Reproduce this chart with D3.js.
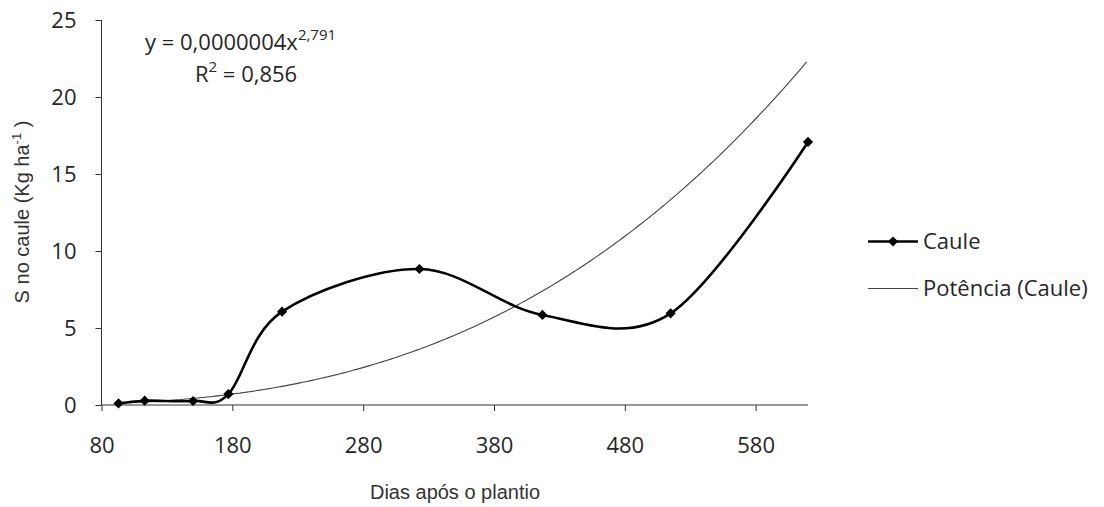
<!DOCTYPE html>
<html><head><meta charset="utf-8">
<script src="https://cdn.jsdelivr.net/npm/d3@7"></script>
<style>body{margin:0;background:#fff}svg{display:block}</style>
</head><body>
<svg id="c" width="1104" height="507"></svg>
<script>
const days = [93, 113, 150, 177, 218, 323, 417, 515, 620];
const caule = [0.1, 0.28, 0.26, 0.71, 6.06, 8.83, 5.85, 5.95, 17.08];
const xTicks = [80, 180, 280, 380, 480, 580];
const yTicks = [0, 5, 10, 15, 20, 25];
const trendA = 3.6e-7, trendB = 2.791;
const seriesNames = ["Caule", "Potência (Caule)"];

const svg = d3.select("#c");
const x = d3.scaleLinear().domain([80, 620]).range([101.5, 808]);
const y = d3.scaleLinear().domain([0, 25]).range([405, 20]);
const tickFont = "'Open Sans', sans-serif";
const FS = 22;
const txtCol = "#262626";

// Y axis
const ya = svg.append("g").attr("transform", "translate(101.5,0)")
  .call(d3.axisLeft(y).tickValues(yTicks).tickSize(6).tickPadding(19));
ya.select(".domain").attr("stroke", "#333").attr("d", "M0,405V20");
ya.selectAll("line").attr("stroke", "#333");
ya.selectAll("text").attr("font-family", tickFont).attr("font-size", FS).attr("fill", txtCol);

// X axis
const xa = svg.append("g").attr("transform", "translate(0,405)")
  .call(d3.axisBottom(x).tickValues(xTicks).tickSize(6).tickPadding(26));
xa.select(".domain").attr("stroke", "#333").attr("d", "M101.5,0H808");
xa.selectAll("line").attr("stroke", "#333");
xa.selectAll("text").attr("font-family", tickFont).attr("font-size", FS).attr("fill", txtCol);

// Titles
svg.append("text").attr("x", 455).attr("y", 499).attr("text-anchor", "middle")
  .attr("font-family", "'Liberation Sans', Arial, sans-serif").attr("font-size", 20).attr("fill", "#333")
  .text("Dias após o plantio");
const yt = svg.append("text").attr("transform", "translate(29,212) rotate(-90)").attr("text-anchor", "middle")
  .attr("font-family", "'Liberation Sans', Arial, sans-serif").attr("font-size", 20).attr("fill", "#333");
yt.append("tspan").text("S no caule (Kg ha");
yt.append("tspan").attr("dy", -8).attr("font-size", 13).text("-1");
yt.append("tspan").attr("dy", 8).text(" )");

// Trend line
const tx = d3.range(days[0], days[days.length - 1] + 0.5, 2);
const trendPts = tx.map(d => [d, trendA * Math.pow(d, trendB)]);
svg.append("path").datum(trendPts)
  .attr("d", d3.line().x(d => x(d[0])).y(d => y(d[1])))
  .attr("fill", "none").attr("stroke", "#444").attr("stroke-width", 1.1);

// Caule smoothed line
const pts = days.map((d, i) => [d, caule[i]]);
svg.append("path").datum(pts)
  .attr("d", d3.line().x(d => x(d[0])).y(d => y(d[1])).curve(d3.curveCardinal.tension(0)))
  .attr("fill", "none").attr("stroke", "#000").attr("stroke-width", 2.6);
const diamond = d3.symbol().type(d3.symbolSquare).size(52);
svg.selectAll("path.mk").data(pts).join("path").attr("class", "mk")
  .attr("d", diamond).attr("transform", d => `translate(${x(d[0])},${y(d[1])}) rotate(45)`).attr("fill", "#000");

// Equation
const eq = svg.append("text").attr("x", 145).attr("y", 50)
  .attr("font-family", tickFont).attr("font-size", FS).attr("fill", txtCol);
eq.append("tspan").text("y = 0,0000004x");
eq.append("tspan").attr("dy", -10).attr("font-size", 15).text("2,791");
const r2 = svg.append("text").attr("x", 195).attr("y", 82)
  .attr("font-family", tickFont).attr("font-size", FS).attr("fill", txtCol);
r2.append("tspan").text("R");
r2.append("tspan").attr("dy", -10).attr("font-size", 15).text("2");
r2.append("tspan").attr("dy", 10).text(" = 0,856");

// Legend
const lg = svg.append("g");
lg.append("line").attr("x1", 868).attr("x2", 918).attr("y1", 241.5).attr("y2", 241.5).attr("stroke", "#000").attr("stroke-width", 2.6);
lg.append("path").attr("d", diamond).attr("transform", "translate(893,241.5) rotate(45)").attr("fill", "#000");
lg.append("text").attr("x", 923).attr("y", 249).attr("font-family", tickFont).attr("font-size", FS).attr("fill", txtCol).text(seriesNames[0]);
lg.append("line").attr("x1", 868).attr("x2", 918).attr("y1", 288.5).attr("y2", 288.5).attr("stroke", "#444").attr("stroke-width", 1.1);
lg.append("text").attr("x", 923).attr("y", 296).attr("font-family", tickFont).attr("font-size", FS).attr("fill", txtCol).text(seriesNames[1]);
</script>
</body></html>
